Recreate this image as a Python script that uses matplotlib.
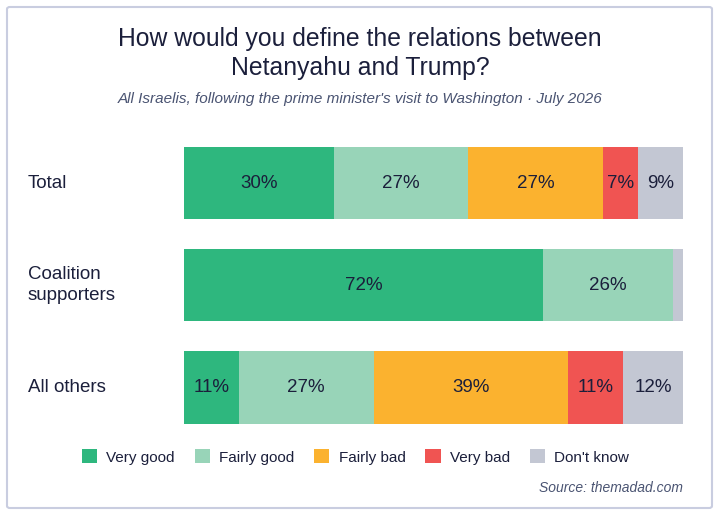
import numpy as np
import matplotlib
matplotlib.use("Agg")
import matplotlib.pyplot as plt
from matplotlib.patches import FancyBboxPatch, Patch

plt.rcParams['font.family'] = ['Liberation Sans', 'DejaVu Sans']

# Data
groups = ["Total", "Coalition\nsupporters", "All others"]
categories = ["Very good", "Fairly good", "Fairly bad", "Very bad", "Don't know"]
very_good = [30, 72, 11]
fairly_good = [27, 26, 27]
fairly_bad = [27, 0, 39]
very_bad = [7, 0, 11]
dont_know = [9, 2, 12]

colors = ["#2eb77e", "#98d4b8", "#fbb22f", "#f05452", "#c3c7d3"]
text_dark = "#1b1f3b"
muted = "#4a5472"

W, H = 720, 515
fig = plt.figure(figsize=(W / 100, H / 100), dpi=100)
fig.patch.set_facecolor("white")

# outer card border
fig.patches.append(FancyBboxPatch((7 / W, 7 / H), 705 / W, 501 / H,
                                  boxstyle="round,pad=0,rounding_size=0.004",
                                  transform=fig.transFigure, facecolor="none",
                                  edgecolor="#c9cde0", linewidth=1.5, zorder=0))

# title and subtitle
fig.text(0.5, 1 - 39 / H, "How would you define the relations between",
         ha="center", va="center", fontsize=17.8, color=text_dark)
fig.text(0.5, 1 - 68.5 / H, "Netanyahu and Trump?",
         ha="center", va="center", fontsize=17.8, color=text_dark)
fig.text(0.5, 1 - 99 / H,
         "All Israelis, following the prime minister's visit to Washington \u00b7 July 2026",
         ha="center", va="center", fontsize=11, style="italic", color=muted)

# bars axes: x 184..683 px, y 147..423 px
bar_h = 0.71
ax = fig.add_axes([184 / W, (H - 423.5) / H, 499 / W, 276.5 / H])
series = [very_good, fairly_good, fairly_bad, very_bad, dont_know]
y = np.arange(len(groups))
left = np.zeros(len(groups))
for cat, vals, col in zip(categories, series, colors):
    vals = np.array(vals, dtype=float)
    ax.barh(y, vals, left=left, height=bar_h, color=col, edgecolor="none")
    for yi, (l, v) in enumerate(zip(left, vals)):
        if v >= 5:
            ax.text(l + v / 2, yi, f"{int(v)}%", ha="center", va="center",
                    fontsize=13.5, color=text_dark)
    left += vals

ax.set_xlim(0, 100)
ax.set_ylim(len(groups) - 1 + bar_h / 2, -bar_h / 2)
ax.axis("off")

# row labels
for yi, g in enumerate(groups):
    ax.text(-0.313, yi, g, transform=ax.get_yaxis_transform(),
            ha="left", va="center", fontsize=13.5, color=text_dark, linespacing=1.3)

# legend
handles = [Patch(facecolor=c, edgecolor="none") for c in colors]
fig.legend(handles, categories, loc="center left",
           bbox_to_anchor=(68 / W, 1 - 457 / H), ncol=5, frameon=False,
           fontsize=11, handlelength=1.0, handleheight=1.0, handletextpad=0.6,
           columnspacing=1.3, labelcolor=text_dark)

fig.text(683 / W, 1 - 488 / H, "Source: themadad.com", ha="right", va="center",
         fontsize=10, style="italic", color=muted)

fig.savefig("out.png", dpi=100)
